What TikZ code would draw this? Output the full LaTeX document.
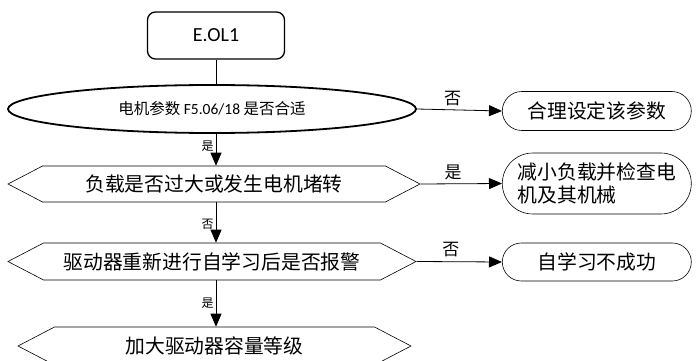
\documentclass[tikz,border=0pt]{standalone}
\usepackage{fontspec}
\setmainfont{Carlito}
\newfontfamily\cjk{Noto Sans CJK SC}
\usetikzlibrary{shapes.geometric,shapes.misc,shapes.symbols,arrows.meta}

\begin{document}
\begin{tikzpicture}
		[
			x=1pt, y=-1pt,
			every node/.style={align=center, inner sep=2pt},
			startbox/.style={draw, rectangle, rounded corners=8pt, line width=1.3pt, minimum width=137pt, minimum height=47pt, font=\fontsize{20}{24}\selectfont},
			checkell/.style={draw, ellipse, line width=1.8pt, minimum width=408pt, minimum height=48pt, font=\fontsize{15.5}{18}\selectfont},
			hexbox/.style={draw, signal, signal to=west and east, signal pointer angle=55, minimum height=36pt, line width=0.6pt, font=\cjk\fontsize{19.8}{22}\selectfont},
			endbox/.style={draw, rounded rectangle, minimum width=193pt, minimum height=39pt, line width=0.6pt, font=\cjk\fontsize{19.8}{23}\selectfont},
			flow/.style={-{Triangle[length=13pt,width=11pt]}, line width=0.8pt},
			yesno/.style={font=\cjk\fontsize{17}{20}\selectfont, inner sep=4pt},
			tag/.style={font=\cjk\fontsize{12}{14}\selectfont, inner sep=2pt}
		]
		\useasboundingbox (0,0) rectangle (697,361);

		\node (eol) [startbox] at (216,35.5) {E.OL1};
		\node (motor) [checkell] at (212,109) {{\cjk 电机参数} F5.06/18 {\cjk 是否合适}};
		\node (load) [hexbox, minimum width=412pt] at (214,184) {负载是否过大或发生电机堵转};
		\node (tune) [hexbox, minimum width=408pt, minimum height=37pt] at (212,261.5) {驱动器重新进行自学习后是否报警};
		\node (upsize) [hexbox, minimum width=393pt, minimum height=38pt] at (214.5,346) {加大驱动器容量等级};

		\node (setpar) [endbox, anchor=west] at (502,111) {合理设定该参数};
		\node (reduce) [endbox, anchor=west, minimum height=61pt, align=left] at (502,183.5) {减小负载并检查电\\机及其机械};
		\node (fail) [endbox, anchor=west, minimum height=38pt] at (502,262) {自学习不成功};

		\draw[line width=0.8pt] (eol) -- (eol |- motor.north);
		\draw[flow] (eol |- motor.south) -- node[tag, left, pos=0.4] {是} (eol |- load.north);
		\draw[flow] (eol |- load.south) -- node[tag, left, pos=0.55] {否} (eol |- tune.north);
		\draw[flow] (eol |- tune.south) -- node[tag, left, pos=0.5] {是} (eol |- upsize.north);

		\draw[flow] (motor.east) -- node[yesno, above, pos=0.42] {否} (setpar.west);
		\draw[flow] (load.east) -- node[yesno, above, pos=0.4] {是} (reduce.west);
		\draw[flow] (tune.east) -- node[yesno, above, pos=0.4] {否} (fail.west);
	\end{tikzpicture}
\end{document}
